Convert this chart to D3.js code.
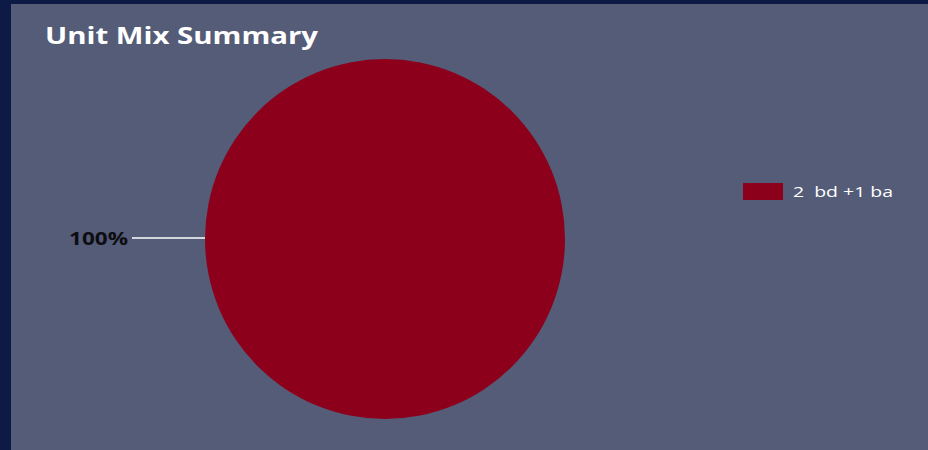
<!DOCTYPE html>
<html>
<head>
<meta charset="utf-8">
<script src="https://cdn.jsdelivr.net/npm/d3@7"></script>
<style>
  html, body { margin: 0; padding: 0; background: #0c1a45; }
  svg { display: block; }
</style>
</head>
<body>
<svg id="chart" width="928" height="450"></svg>
<script>
// Unit mix data
const unitTypes = ["2  bd +1 ba"];
const unitShares = [100];
const sliceColors = ["#8c001c"];

const W = 928, H = 450;
const svg = d3.select("#chart");

// Card panel
svg.append("rect")
  .attr("x", 11).attr("y", 4)
  .attr("width", W - 11).attr("height", H - 4)
  .attr("fill", "#545c78");

// Title
svg.append("text")
  .attr("x", 45).attr("y", 44)
  .attr("font-family", "'Open Sans', sans-serif")
  .attr("font-weight", 700)
  .attr("font-size", 24)
  .attr("fill", "#ffffff")
  .attr("textLength", 273)
  .attr("lengthAdjust", "spacingAndGlyphs")
  .text("Unit Mix Summary");

const cx = 385, cy = 239, radius = 180;
const data = unitTypes.map((t, i) => ({ type: t, value: unitShares[i], color: sliceColors[i] }));

const pie = d3.pie().value(d => d.value).sort(null);
const arc = d3.arc().innerRadius(0).outerRadius(radius);
const arcs = pie(data);

const g = svg.append("g").attr("transform", `translate(${cx},${cy})`);
g.selectAll("path.slice")
  .data(arcs)
  .join("path")
  .attr("class", "slice")
  .attr("d", arc)
  .attr("fill", d => d.data.color);

// Percentage labels with leader line; a full-circle slice gets its label on the left
const total = d3.sum(unitShares);
arcs.forEach(a => {
  const pct = Math.round(a.data.value / total * 100) + "%";
  const full = a.endAngle - a.startAngle >= 2 * Math.PI - 1e-6;
  const ang = full ? Math.PI : (a.startAngle + a.endAngle) / 2 - Math.PI / 2;
  const ex = Math.cos(ang) * radius;
  const ey = Math.sin(ang) * radius;
  const lineLen = 73;
  g.append("line")
    .attr("x1", ex).attr("y1", ey - 1)
    .attr("x2", ex - lineLen).attr("y2", ey - 1)
    .attr("stroke", "#ffffff")
    .attr("stroke-width", 1.5);
  g.append("text")
    .attr("x", ex - lineLen - 4).attr("y", ey + 6)
    .attr("text-anchor", "end")
    .attr("font-family", "'Open Sans', sans-serif")
    .attr("font-weight", 700)
    .attr("font-size", 17)
    .attr("fill", "#0d0d12")
    .attr("textLength", 59)
    .attr("lengthAdjust", "spacingAndGlyphs")
    .text(pct);
});

// Legend
const legend = svg.append("g").attr("transform", "translate(743,183)");
const item = legend.selectAll("g.item")
  .data(data)
  .join("g")
  .attr("class", "item")
  .attr("transform", (d, i) => `translate(0,${i * 24})`);
item.append("rect")
  .attr("width", 40).attr("height", 17)
  .attr("fill", d => d.color);
item.append("text")
  .attr("x", 50).attr("y", 14)
  .attr("font-family", "'Open Sans', sans-serif")
  .attr("font-size", 15)
  .attr("fill", "#ffffff")
  .attr("textLength", 100)
  .attr("lengthAdjust", "spacingAndGlyphs")
  .style("white-space", "pre")
  .text(d => d.type);
</script>
</body>
</html>
